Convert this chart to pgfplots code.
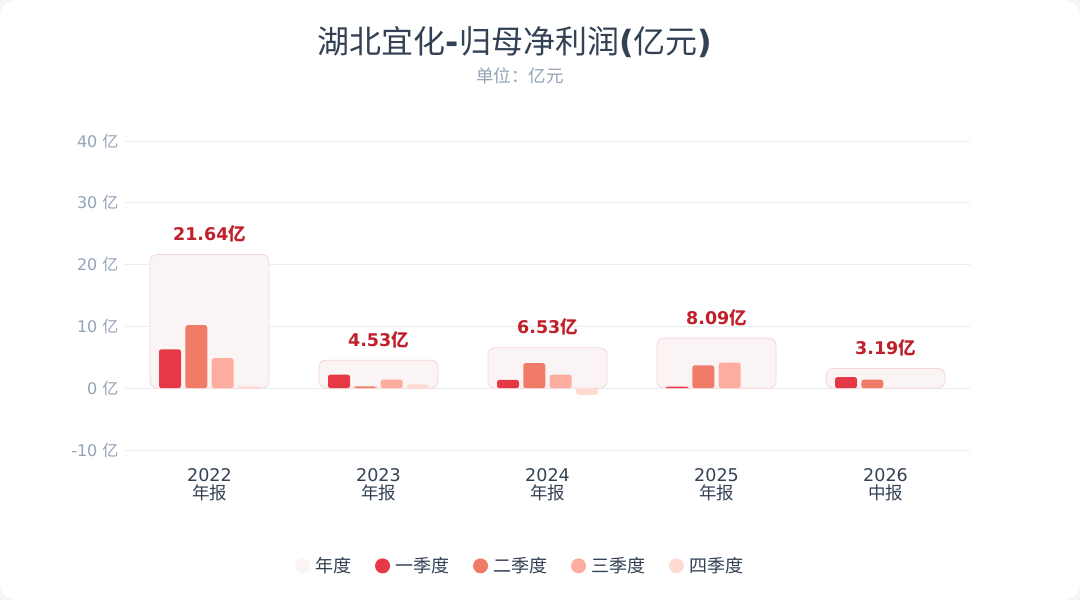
\documentclass[border=0pt]{standalone}
\usepackage{fontspec}
\setmainfont{DejaVu Sans}
\newfontfamily\cjk{Noto Sans CJK SC}
\usepackage{pgfplots}
\pgfplotsset{compat=1.18}
\definecolor{qone}{HTML}{E63946}
\definecolor{qtwo}{HTML}{F07B67}
\definecolor{qthree}{HTML}{FCADA0}
\definecolor{qfour}{HTML}{FDDAD2}
\definecolor{annfill}{HTML}{FBF4F5}
\definecolor{anndraw}{HTML}{F6D5D9}
\definecolor{labred}{HTML}{C0202A}
\definecolor{darktext}{HTML}{334155}
\definecolor{graytext}{HTML}{94A3B8}
\definecolor{gridcol}{HTML}{E9ECF1}
\definecolor{bgcol}{HTML}{F4F5F7}
\pgfplotsset{dotlegend/.style={legend image code/.code={\fill[##1, draw=none] (7.5bp,0bp) circle (7.5bp);}}}
\begin{document}
\begin{tikzpicture}[x=1bp,y=1bp]
\useasboundingbox (0,0) rectangle (1080,600);
\fill[bgcol] (0,0) rectangle (1080,600);
\fill[white, rounded corners=16bp] (0,0) rectangle (1080,600);
\node[text=darktext, font=\fontsize{32bp}{38bp}\selectfont] at (515,558)
  {{\cjk 湖北宜化}\textbf{-}{\cjk 归母净利润}\textbf{(}{\cjk 亿元}\textbf{)}};
\node[text=graytext, font=\fontsize{17.5bp}{20bp}\selectfont\cjk] at (520,524) {单位：亿元};
\begin{axis}[
  at={(125bp,150bp)}, anchor=south west,
  scale only axis, width=845bp, height=309bp,
  xmin=-0.5, xmax=4.5, ymin=-10, ymax=40,
  axis line style={draw=none},
  major tick style={draw=none},
  ymajorgrids, grid style={gridcol, line width=0.8bp},
  ytick={-10,0,10,20,30,40},
  yticklabels={-10 {\cjk 亿}, 0 {\cjk 亿}, 10 {\cjk 亿}, 20 {\cjk 亿}, 30 {\cjk 亿}, 40 {\cjk 亿}},
  yticklabel style={text=graytext, font=\fontsize{16bp}{18bp}\selectfont, xshift=-3bp},
  xtick={0,1,2,3,4},
  xticklabels={{2022\\{\cjk 年报}},{2023\\{\cjk 年报}},{2024\\{\cjk 年报}},{2025\\{\cjk 年报}},{2026\\{\cjk 中报}}},
  xticklabel style={text=darktext, align=center, font=\fontsize{17.5bp}{18bp}\selectfont, yshift=-15bp},
  clip=false,
  legend columns=5,
  legend style={at={(0.4675,-0.375)}, anchor=center, draw=none, fill=none,
    font=\fontsize{18bp}{20bp}\selectfont\cjk, text=darktext,
    /tikz/every odd column/.append style={column sep=3bp},
    /tikz/every even column/.append style={column sep=22bp}},
  dotlegend,
]
\addplot[ybar, bar width=119bp, bar shift=0bp, fill=annfill, draw=anndraw, line width=0.8bp,
  rounded corners=7bp,
  nodes near coords={\pgfmathprintnumber[fixed,fixed zerofill,precision=2,assume math mode=true]{\pgfplotspointmeta}{\cjk 亿}},
  every node near coord/.append style={text=labred, font=\fontsize{17.5bp}{20bp}\selectfont\bfseries, yshift=8.5bp}]
  coordinates {(0,21.64) (1,4.53) (2,6.53) (3,8.09) (4,3.19)};
\addlegendentry{年度}
\addplot[ybar, bar width=22bp, bar shift=-39.5bp, fill=qone, draw=none, rounded corners=2.5bp]
  coordinates {(0,6.30) (1,2.20) (2,1.35) (3,0.25) (4,1.80)};
\addlegendentry{一季度}
\addplot[ybar, bar width=22bp, bar shift=-13.2bp, fill=qtwo, draw=none, rounded corners=2.5bp]
  coordinates {(0,10.20) (1,0.30) (2,4.05) (3,3.70) (4,1.39)};
\addlegendentry{二季度}
\addplot[ybar, bar width=22bp, bar shift=13.2bp, fill=qthree, draw=none, rounded corners=2.5bp]
  coordinates {(0,4.86) (1,1.40) (2,2.20) (3,4.14)};
\addlegendentry{三季度}
\addplot[ybar, bar width=22bp, bar shift=39.5bp, fill=qfour, draw=none, rounded corners=2.5bp]
  coordinates {(0,0.28) (1,0.63) (2,-1.07)};
\addlegendentry{四季度}
\end{axis}
\end{tikzpicture}
\end{document}
